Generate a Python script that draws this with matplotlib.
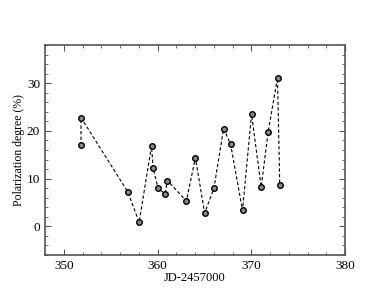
import matplotlib
matplotlib.use('Agg')
import matplotlib.pyplot as plt
from matplotlib.ticker import MultipleLocator

# JD-2457000 and polarization degree (%)
jd = [351.84, 351.84, 356.84, 358.04, 359.36, 359.53, 360.06, 360.81, 361.06,
      363.08, 364.04, 365.03, 366.02, 367.05, 367.8, 369.07, 370.03, 371.06,
      371.8, 372.8, 373.04]
pol = [16.95, 22.8, 7.2, 0.84, 16.8, 12.25, 7.98, 6.8, 9.6,
       5.3, 14.35, 2.8, 7.98, 20.5, 17.2, 3.36, 23.5, 8.26,
       19.75, 31.15, 8.7]

plt.rcParams['font.family'] = 'Liberation Serif'

fig = plt.figure(figsize=(3.88, 3.0), dpi=100)
ax = fig.add_axes([45/388, 45/300, 300/388, 210/300])

ax.plot(jd, pol, linestyle='--', color='black', linewidth=0.8, dashes=(3, 2),
        marker='o', markersize=4, markerfacecolor='#888888', markeredgecolor='black',
        markeredgewidth=1.0)

ax.set_xlim(348, 380)
ax.set_ylim(-6, 38)
ax.xaxis.set_major_locator(MultipleLocator(10))
ax.xaxis.set_minor_locator(MultipleLocator(2))
ax.yaxis.set_major_locator(MultipleLocator(10))
ax.yaxis.set_minor_locator(MultipleLocator(2))
ax.tick_params(which='both', direction='in', top=True, right=True,
               labelsize=9.5, color='#555555')
ax.tick_params(which='major', length=4)
ax.tick_params(which='minor', length=2)
for s in ax.spines.values():
    s.set_color('#555555')
    s.set_linewidth(1.2)

ax.set_xlabel('JD-2457000', fontsize=9, labelpad=0)
ax.set_ylabel('Polarization degree (%)', fontsize=8.5, labelpad=1)

fig.savefig('out.png', dpi=100)
